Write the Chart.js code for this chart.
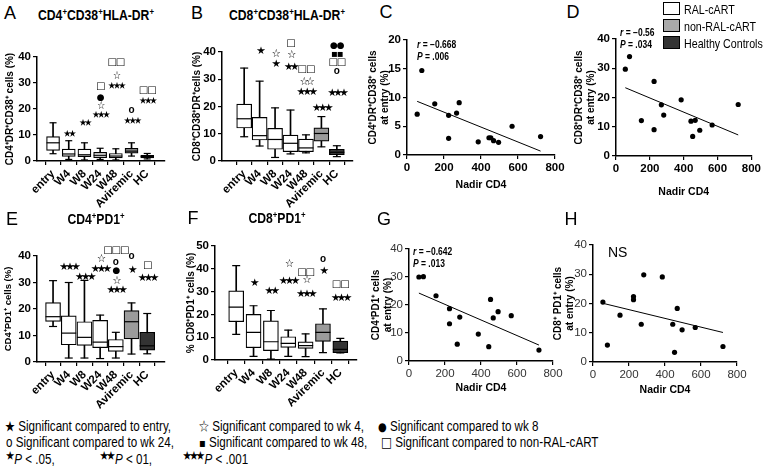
<!DOCTYPE html>
<html lang="en">
<head>
<meta charset="UTF-8">
<title>Immune activation and PD1 expression</title>
<script src="https://cdn.jsdelivr.net/npm/chart.js"></script>
<style>
  body { margin: 0; background: #fff; font-family: 'Liberation Sans', Arial, sans-serif; color: #000; }
  #fig { position: relative; width: 765px; height: 468px; overflow: hidden; background: #fff; }
  #fig canvas { position: absolute; }
  .t { position: absolute; white-space: nowrap; line-height: 1; }
  .mid { transform: translate(-50%, -50%); }
  .letter { font-size: 18px; }
  .ttl { font-size: 14px; font-weight: bold; transform: translate(-50%, -50%) scaleX(0.87); }
  .ttl sup { font-size: 9px; }
  .stat { font-size: 10px; font-weight: bold; transform-origin: 0 50%; transform: translateY(-50%) scaleX(0.85); }
  .ns { font-size: 14px; transform: translateY(-50%); }
  .key { font-size: 13px; transform-origin: 0 50%; transform: translateY(-50%) scaleX(0.82); }
  .sw { position: absolute; width: 15px; height: 11px; border: 1px solid #000; }
  .note { font-size: 14px; transform-origin: 0 50%; transform: translateY(-50%) scaleX(0.83); }
  .g { font-family: 'Noto Sans CJK SC', 'DejaVu Sans', sans-serif; font-size: 12px; }
  .note sup { font-family: 'Noto Sans CJK SC', 'DejaVu Sans', sans-serif; font-size: 10px; letter-spacing: -2px; margin-right: 2px; }
</style>
</head>
<body>
<div id="fig">
  <canvas id="chartA" width="180" height="182" style="left:0;top:30px"></canvas>
  <canvas id="chartB" width="180" height="187" style="left:185px;top:25px"></canvas>
  <canvas id="chartC" width="205" height="165" style="left:362px;top:28px"></canvas>
  <canvas id="chartD" width="195" height="172" style="left:568px;top:28px"></canvas>
  <canvas id="chartE" width="180" height="180" style="left:0;top:235px"></canvas>
  <canvas id="chartF" width="185" height="190" style="left:180px;top:225px"></canvas>
  <canvas id="chartG" width="200" height="158" style="left:365px;top:238px"></canvas>
  <canvas id="chartH" width="205" height="163" style="left:548px;top:235px"></canvas>

  <div class="t mid letter" style="left:10px;top:13px">A</div>
  <div class="t mid letter" style="left:197px;top:13px">B</div>
  <div class="t mid letter" style="left:386px;top:12px">C</div>
  <div class="t mid letter" style="left:573px;top:12px">D</div>
  <div class="t mid letter" style="left:12px;top:219px">E</div>
  <div class="t mid letter" style="left:193px;top:218px">F</div>
  <div class="t mid letter" style="left:384px;top:219px">G</div>
  <div class="t mid letter" style="left:571px;top:219px">H</div>

  <div class="t ttl" style="left:96px;top:15px">CD4<sup>+</sup>CD38<sup>+</sup>HLA-DR<sup>+</sup></div>
  <div class="t ttl" style="left:287px;top:15px">CD8<sup>+</sup>CD38<sup>+</sup>HLA-DR<sup>+</sup></div>
  <div class="t ttl" style="left:96px;top:219px">CD4<sup>+</sup>PD1<sup>+</sup></div>
  <div class="t ttl" style="left:277px;top:218px">CD8<sup>+</sup>PD1<sup>+</sup></div>

  <div class="t stat" style="left:417px;top:45px"><i>r</i> = &minus;0.668</div>
  <div class="t stat" style="left:417px;top:57px"><i>P</i> = .006</div>
  <div class="t stat" style="left:620px;top:33px"><i>r</i> = &minus;0.56</div>
  <div class="t stat" style="left:620px;top:45px"><i>P</i> = .034</div>
  <div class="t stat" style="left:413px;top:252px"><i>r</i> = &minus;0.642</div>
  <div class="t stat" style="left:413px;top:264px"><i>P</i> = .013</div>
  <div class="t ns" style="left:608px;top:252px">NS</div>

  <div class="sw" style="left:663px;top:2px;background:#fff"></div>
  <div class="sw" style="left:663px;top:19px;background:#aaa"></div>
  <div class="sw" style="left:663px;top:36px;background:#333"></div>
  <div class="t key" style="left:684px;top:9px">RAL-cART</div>
  <div class="t key" style="left:684px;top:26px">non-RAL-cART</div>
  <div class="t key" style="left:684px;top:43px">Healthy Controls</div>

  <div class="t note" style="left:5px;top:426px"><span class="g">&#9733;</span> Significant compared to entry,</div>
  <div class="t note" style="left:199px;top:426px"><span class="g">&#9734;</span> Significant compared to wk 4,</div>
  <div class="t note" style="left:378px;top:426px"><span class="g" style="font-family:'DejaVu Sans'">&#9679;</span> Significant compared to wk 8</div>
  <div class="t note" style="left:6px;top:442px">o Significant compared to wk 24,</div>
  <div class="t note" style="left:199px;top:442px"><span class="g" style="font-family:'DejaVu Sans'">&#9642;</span> Significant compared to wk 48,</div>
  <div class="t note" style="left:381px;top:442px"><span class="g" style="font-family:'DejaVu Sans';font-size:14px">&#9633;</span> Significant compared to non-RAL-cART</div>
  <div class="t note" style="left:6px;top:458px"><sup>&#9733;</sup><i>P</i> &lt; .05,</div>
  <div class="t note" style="left:100px;top:458px"><sup>&#9733;&#9733;</sup><i>P</i> &lt; 01,</div>
  <div class="t note" style="left:183px;top:458px"><sup>&#9733;&#9733;&#9733;</sup><i>P</i> &lt; .001</div>
</div>

<script>
const groups = ['entry', 'W4', 'W8', 'W24', 'W48', 'Aviremic', 'HC'];

// A: CD4+CD38+HLA-DR+ (%), whisker low, Q1, median, Q3, whisker high
const aLow = [2.8, 0.6, 0.4, 0.6, 0.4, 1.9, 0.8];
const aQ1  = [4.1, 1.8, 1.7, 1.3, 1.2, 3.0, 1.2];
const aMed = [7.0, 2.7, 2.4, 2.2, 1.9, 3.8, 1.7];
const aQ3  = [9.4, 4.6, 4.6, 3.3, 2.9, 4.9, 2.2];
const aHigh = [14.7, 7.8, 7.0, 4.9, 4.7, 7.0, 2.9];

// B: CD8+CD38+HLA-DR+ (%)
const bLow = [8.9, 5.5, 1.3, 2.6, 3.0, 5.2, 1.6];
const bQ1  = [12.1, 7.7, 4.3, 3.4, 3.4, 7.3, 2.3];
const bMed = [15.5, 9.3, 7.9, 6.5, 4.8, 10.1, 3.2];
const bQ3  = [20.9, 16.0, 12.0, 9.5, 8.0, 12.2, 4.3];
const bHigh = [34.1, 29.3, 19.5, 18.7, 9.6, 16.3, 5.6];

// E: CD4+PD1+ (%)
const eLow = [13.4, 1.5, 1.5, 1.3, 1.5, 3.0, 3.1];
const eQ1  = [15.3, 6.5, 6.3, 5.4, 4.0, 8.7, 4.5];
const eMed = [17.1, 10.9, 9.3, 7.5, 5.8, 15.2, 6.1];
const eQ3  = [22.4, 17.4, 15.2, 15.7, 8.5, 19.4, 11.2];
const eHigh = [30.7, 30.0, 30.8, 17.7, 11.2, 22.3, 18.3];

// F: CD8+PD1+ (%)
const fLow = [11.2, 1.6, 0.4, 1.6, 1.5, 3.2, 3.1];
const fQ1  = [16.8, 5.4, 4.1, 5.5, 5.1, 8.2, 3.2];
const fMed = [23.2, 12.1, 8.0, 7.3, 6.3, 12.1, 4.7];
const fQ3  = [30.3, 20.0, 17.2, 10.2, 8.0, 15.9, 8.3];
const fHigh = [41.4, 23.8, 21.7, 13.1, 11.5, 22.4, 9.5];

// significance marks: [group index, height, symbols]
const marksA = [[1, 10.9, '★★'], [2, 14.9, '★★'], [3, 18, '★★★'], [3, 21.5, '☆'], [3, 24.5, '●'], [3, 28.5, '□'],
  [4, 29.2, '★★★'], [4, 33, '☆'], [4, 38, '□□'], [5, 15.8, '★★★'], [5, 19.6, 'o'], [6, 23.5, '★★★'], [6, 27.3, '□□']];
const marksB = [[1, 40.9, '★'], [2, 36.2, '★'], [2, 39.8, '☆'], [3, 35.1, '★★'], [3, 39.4, '☆'], [3, 43.3, '□'],
  [4, 25.7, '★★★'], [4, 29.6, '☆☆'], [4, 33.5, '□□'], [5, 19.9, '★★★'],
  [6, 25.4, '★★★'], [6, 32.8, 'o'], [6, 36, '□□'], [6, 39.1, '▪▪'], [6, 42.4, '●●']];
const marksE = [[1, 36.2, '★★★'], [2, 32.7, '★★★'], [3, 35.6, '★★★'], [3, 39.4, '☆'],
  [4, 27.7, '★★★'], [4, 31.1, '☆'], [4, 34.4, '●'], [4, 37.7, 'o'], [4, 42.1, '□□□'],
  [5, 35.2, '★'], [5, 40, 'o'], [6, 32, '★★★'], [6, 36.5, '□']];
const marksF = [[1, 34.5, '★'], [2, 30.9, '★★'], [3, 35.3, '★★★'], [3, 42.6, '☆'],
  [4, 29.4, '★★★'], [4, 35.7, '☆'], [4, 38.6, '□□'], [5, 39.7, '★'], [5, 44.3, 'o'],
  [6, 27.7, '★★★'], [6, 33.1, '□□']];

// nadir CD4 per patient, and the value at entry for C, D, G, H
const nadir = [55, 80, 150, 225, 225, 268, 282, 385, 443, 453, 468, 495, 568, 722];
const cEntry = [7.1, 14.7, 8.9, 6.9, 2.9, 7.3, 9.1, 2.3, 3.0, 3.0, 2.5, 2.2, 5.0, 3.2];
const dEntry = [29.7, 34.0, 12.1, 25.5, 9.0, 17.5, 14.0, 19.2, 11.9, 6.7, 12.2, 8.8, 10.6, 17.6];
const gEntry = [30.0, 30.1, 23.3, 18.7, 13.3, 6.0, 15.7, 9.6, 5.1, 22.0, 15.4, 17.6, 16.2, 3.9];
const hEntry = [20.5, 5.8, 16.0, 22.4, 21.3, 12.9, 29.8, 29.1, 12.9, 3.3, 18.3, 11.0, 11.8, 5.3];

Chart.defaults.font.family = "'Liberation Sans', Arial, sans-serif";
Chart.defaults.color = '#000';
Chart.defaults.animation = false;
Chart.defaults.responsive = false;
Chart.defaults.plugins.legend.display = false;
Chart.defaults.plugins.tooltip.enabled = false;

const boxFill = ['#fff', '#fff', '#fff', '#fff', '#fff', '#9b9b9b', '#333'];

function axisLines() {
    return {
        grid: { display: true, drawOnChartArea: false, drawTicks: true, tickLength: 4, color: '#000', lineWidth: 1.2 },
        border: { display: true, color: '#000', width: 1.5 }
    };
}

function marksPlugin(items, starSize) {
    return {
        id: 'marks',
        afterDatasetsDraw(chart) {
            const { ctx, scales: { x, y } } = chart;
            ctx.save();
            ctx.fillStyle = '#000';
            ctx.textAlign = 'center';
            ctx.textBaseline = 'middle';
            items.forEach(([i, v, s]) => {
                let font = starSize + "px 'Noto Sans CJK SC'";
                let spacing = -(starSize * 0.3) + 'px';
                if (s[0] === '□') { font = "bold 10px 'DejaVu Sans'"; spacing = '-1px'; }
                if (s[0] === '●') { font = "9px 'DejaVu Sans'"; spacing = '-1px'; }
                if (s[0] === '▪') { font = "10px 'DejaVu Sans'"; spacing = '-1px'; }
                if (s[0] === 'o') { font = "bold 10px 'Liberation Sans'"; spacing = '0px'; }
                ctx.font = font;
                ctx.letterSpacing = spacing;
                ctx.fillText(s, x.getPixelForValue(i), y.getPixelForValue(v));
            });
            ctx.restore();
        }
    };
}

function boxChart(id, low, q1, med, q3, high, marks, o) {
    const pts = arr => arr.map((v, i) => ({ x: i, y: v }));
    const spans = (a, b) => a.map((v, i) => ({ x: i, y: [v, b[i]] }));
    const capStyle = { type: 'line', showLine: false, pointStyle: 'line', pointBorderColor: '#000', pointBorderWidth: 1.2, order: 1 };
    new Chart(document.getElementById(id), {
        type: 'bar',
        data: {
            datasets: [
                { data: spans(low, high), backgroundColor: '#000', barThickness: 1, grouped: false, order: 3 },
                { data: spans(q1, q3), backgroundColor: boxFill, borderColor: '#000', borderWidth: 1.2,
                  borderSkipped: false, barThickness: o.boxW, grouped: false, order: 2 },
                { ...capStyle, data: pts(med), pointRadius: o.boxW / 2 },
                { ...capStyle, data: pts(low), pointRadius: o.capW / 2 },
                { ...capStyle, data: pts(high), pointRadius: o.capW / 2 }
            ]
        },
        options: {
            layout: { padding: { left: 0, top: o.padTop, right: o.padRight, bottom: 0 } },
            scales: {
                x: {
                    type: 'linear', min: o.xMin, max: o.xMax,
                    afterBuildTicks: s => { s.ticks = groups.map((g, i) => ({ value: i })); },
                    afterFit: s => { s.height = o.xH; },
                    ticks: { callback: v => groups[v], autoSkip: false, minRotation: 45, maxRotation: 45,
                             font: { weight: 'bold', size: 11.5 }, padding: 2 },
                    ...axisLines()
                },
                y: {
                    min: 0, max: o.yMax,
                    afterFit: s => { s.width = o.yW; },
                    ticks: { stepSize: 10, font: { weight: 'bold', size: 11.5 }, padding: 2 },
                    title: { display: true, text: o.yTitle, font: { weight: 'bold', size: o.titleSize },
                             padding: { top: o.titlePad, bottom: 0 } },
                    ...axisLines()
                }
            }
        },
        plugins: [marksPlugin(marks, o.starSize)]
    });
}

function fitLine(xs, ys) {
    const n = xs.length;
    const mx = xs.reduce((a, b) => a + b, 0) / n;
    const my = ys.reduce((a, b) => a + b, 0) / n;
    let sxy = 0, sxx = 0;
    xs.forEach((x, i) => { sxy += (x - mx) * (ys[i] - my); sxx += (x - mx) * (x - mx); });
    const slope = sxy / sxx;
    const x0 = Math.min(...xs), x1 = Math.max(...xs);
    return [{ x: x0, y: my + slope * (x0 - mx) }, { x: x1, y: my + slope * (x1 - mx) }];
}

function scatterChart(id, ys, o) {
    const tickFont = { weight: o.bold ? 'bold' : 'normal', size: 11.5 };
    const tickColor = o.bold ? '#000' : '#333';
    new Chart(document.getElementById(id), {
        type: 'scatter',
        data: {
            datasets: [
                { data: nadir.map((x, i) => ({ x, y: ys[i] })), pointRadius: 2.6, pointBackgroundColor: '#000',
                  pointBorderWidth: 0, order: 1 },
                { type: 'line', data: fitLine(nadir, ys), borderColor: '#000', borderWidth: 1, pointRadius: 0, order: 2 }
            ]
        },
        options: {
            layout: { padding: { left: 0, top: o.padTop, right: o.padRight, bottom: 0 } },
            scales: {
                x: {
                    type: 'linear', min: 0, max: 800,
                    afterFit: s => { s.height = o.xH; },
                    ticks: { stepSize: 200, font: tickFont, color: tickColor, padding: 2 },
                    title: { display: true, text: 'Nadir CD4', font: { weight: 'bold', size: 10.5 }, padding: { top: 0, bottom: 2 } },
                    ...axisLines()
                },
                y: {
                    min: 0, max: o.yMax,
                    afterFit: s => { s.width = o.yW; },
                    ticks: { stepSize: o.yStep, font: tickFont, color: tickColor, padding: 2 },
                    title: { display: true, text: o.yTitle, font: { weight: 'bold', size: 10 },
                             padding: { top: o.titlePad, bottom: 0 } },
                    ...axisLines()
                }
            }
        }
    });
}

boxChart('chartA', aLow, aQ1, aMed, aQ3, aHigh, marksA, {
    xMin: -0.44, xMax: 6.55, yMax: 40, yW: 37, xH: 51, padTop: 27, padRight: 15,
    boxW: 13, capW: 7, starSize: 7.5, titleSize: 10, titlePad: 4, yTitle: 'CD4⁺DR⁺CD38⁺ cells (%)'
});
boxChart('chartB', bLow, bQ1, bMed, bQ3, bHigh, marksB, {
    xMin: -0.83, xMax: 6.44, yMax: 40, yW: 37, xH: 51, padTop: 27, padRight: 12,
    boxW: 15, capW: 8, starSize: 8.5, titleSize: 10, titlePad: 6, yTitle: 'CD8⁺CD38⁺DR⁺cells (%)'
});
boxChart('chartE', eLow, eQ1, eMed, eQ3, eHigh, marksE, {
    xMin: -0.44, xMax: 6.55, yMax: 40, yW: 37, xH: 53, padTop: 21, padRight: 15,
    boxW: 15, capW: 8, starSize: 8.5, titleSize: 9.5, titlePad: 3, yTitle: 'CD4⁺PD1⁺ cells (%)'
});
boxChart('chartF', fLow, fQ1, fMed, fQ3, fHigh, marksF, {
    xMin: -0.64, xMax: 6.34, yMax: 50, yW: 35, xH: 55, padTop: 21, padRight: 8,
    boxW: 15, capW: 8, starSize: 8.5, titleSize: 10, titlePad: 5, yTitle: '% CD8⁺PD1⁺ cells (%)'
});

scatterChart('chartC', cEntry, { bold: true, yMax: 20, yStep: 5, yW: 45, xH: 38, padTop: 12, padRight: 12,
    titlePad: 5, yTitle: ['CD4⁺DR⁺CD38⁺ cells', 'at entry (%)'] });
scatterChart('chartD', dEntry, { bold: true, yMax: 40, yStep: 10, yW: 48, xH: 44, padTop: 11, padRight: 10,
    titlePad: 5, yTitle: ['CD8⁺DR⁺CD38⁺ cells', 'at entry (%)'] });
scatterChart('chartG', gEntry, { bold: false, yMax: 40, yStep: 10, yW: 44, xH: 35, padTop: 11, padRight: 12,
    titlePad: 5, yTitle: ['CD4⁺PD1⁺ cells', 'at entry (%)'] });
scatterChart('chartH', hEntry, { bold: false, yMax: 40, yStep: 10, yW: 45, xH: 36, padTop: 10, padRight: 16,
    titlePad: 4, yTitle: ['CD8⁺ PD1⁺ cells', 'at entry (%)'] });
</script>
</body>
</html>
